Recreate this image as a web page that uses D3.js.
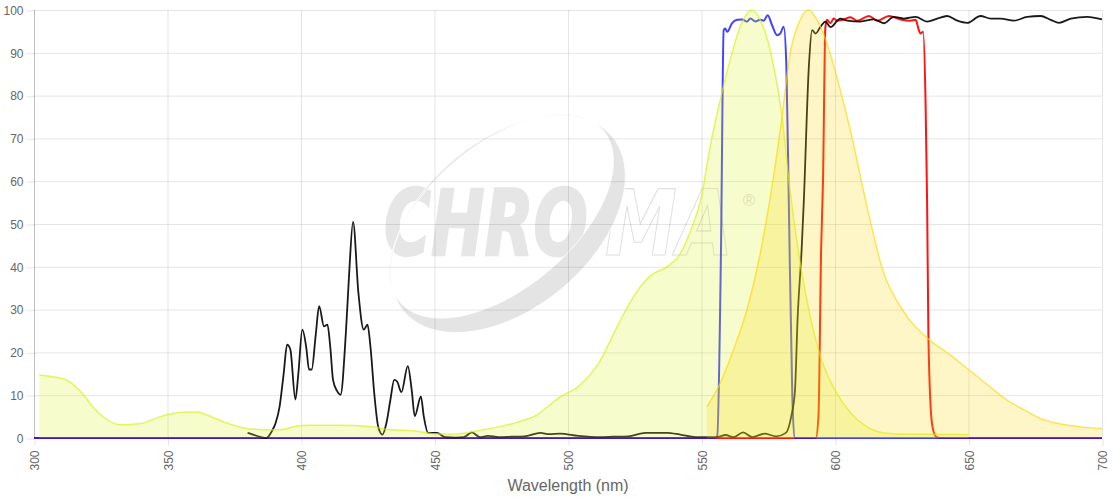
<!DOCTYPE html>
<html>
<head>
<meta charset="utf-8">
<script src="https://cdn.jsdelivr.net/npm/d3@7"></script>
<style>
  body { margin: 0; background: #fff; }
  svg { display: block; font-family: "Liberation Sans", Arial, Helvetica, sans-serif; }
</style>
</head>
<body>
<div id="chart"></div>
<script>
// x ticks and y ticks
const xTicks = [300, 350, 400, 450, 500, 550, 600, 650, 700];
const yTicks = [0, 10, 20, 30, 40, 50, 60, 70, 80, 90, 100];

// yellow-green spectrum (excitation)
const exWl = [302, 307, 312, 318, 322, 326, 332, 340, 346, 350, 357, 361, 367, 374, 381, 391, 400, 404, 414, 426, 434, 442, 450, 457, 468, 474, 481, 488, 497, 504, 512, 518, 525, 531, 537, 542, 546, 550, 553, 557, 561, 565, 569, 572, 576, 580, 583, 587, 591, 595, 600, 606, 612, 618, 625, 635, 650];
const exVal = [14.7, 14.3, 13.6, 10.5, 7.3, 4.9, 3.1, 3.4, 4.7, 5.5, 6.1, 6.1, 4.8, 3.1, 2.1, 1.9, 2.9, 3.0, 3.0, 2.7, 1.9, 1.7, 1.0, 0.9, 1.9, 2.6, 3.7, 5.3, 9.6, 12.1, 18, 25.5, 33.5, 38, 40, 43, 48.6, 56.4, 67.3, 79, 89, 96.9, 100, 97.7, 89.9, 75.9, 58.7, 40.8, 27.6, 18.2, 11.2, 5.8, 2.6, 1.2, 0.9, 0.9, 0.8];

// gold spectrum (emission)
const emWl = [552, 557, 562, 567, 572, 576, 580, 583, 587, 590, 593, 597, 601, 606, 612, 618, 625, 635, 643, 650, 657, 664, 671, 678, 685, 692, 700];
const emVal = [7.3, 12.8, 20.6, 29.9, 43.1, 57.2, 74.3, 89.1, 97.7, 100, 98, 92.2, 83.6, 71.2, 54, 39, 30.2, 23.1, 19.5, 16, 12.5, 9, 6.5, 4.3, 3.2, 2.6, 2.2];

// black curve
const blackWl = [380, 382, 385, 387, 389, 390.5, 392, 393.5, 394.8, 396, 397.9, 399, 400.5, 402, 403, 404, 405.5, 406.8, 408.6, 409.9, 411, 412, 413.5, 414.8, 416.8, 418, 419.5, 421.5, 423.5, 424.9, 426, 427.5, 428.9, 430.5, 432, 433.5, 434.9, 436, 437.6, 440, 441.5, 442.6, 444.9, 446, 447.6, 450.9, 454, 458, 461, 464, 467, 470, 474, 479, 483.7, 489.7, 493, 497, 503.8, 512, 517, 522.6, 529, 537, 542, 547.8, 555.7, 559, 562, 565.6, 569, 573.6, 578, 581.6, 583.6, 585, 586, 587.5, 588.3, 590.2, 591.4, 592.7, 594.5, 596.4, 598.3, 602, 604.6, 609.5, 614.5, 618.3, 622, 625.8, 630.2, 634.5, 638.3, 642, 645.8, 649.5, 654.5, 658.3, 662, 667, 672, 677, 680.8, 683.9, 688.3, 694.5, 700];
const blackVal = [1.2, 0.8, 0.2, 0, 1.5, 3.5, 7.4, 15, 21.8, 20.7, 9, 15, 25.3, 21, 16, 16, 24, 30.8, 26.1, 26.5, 21, 13.6, 11, 10.1, 24.5, 38, 50.5, 33.9, 25.3, 26.5, 21.4, 10, 2.7, 0.8, 3.5, 9, 13.6, 13.2, 10.7, 16.8, 11, 5.1, 9.7, 5, 1.2, 1.2, 0.2, 0.1, 0.2, 1.3, 0.2, 0.5, 0.2, 0.3, 0.4, 1.2, 0.9, 1.0, 0.5, 0.2, 0.3, 0.4, 1.2, 1.2, 0.8, 0.2, 0.2, 0.7, 0.2, 1.3, 0.2, 1.0, 0.4, 1.2, 5, 11, 28, 44, 55, 86.7, 95.3, 94.5, 96, 97.3, 96, 98, 97.5, 97.3, 97.8, 96.9, 98.4, 98, 98.4, 97.3, 98, 98.6, 97.5, 97, 98.6, 98, 98, 97.5, 98.4, 98.6, 97.7, 97, 98, 98.4, 97.8];

// blue bandpass
const blueWl = [300, 555, 555.9, 557.3, 558.3, 558.9, 559.6, 561.4, 563.3, 565.2, 567, 568.3, 570.2, 572, 573.3, 574.8, 576.4, 578.3, 579.5, 580.8, 581.8, 582.7, 584, 584.8, 700];
const blueVal = [0, 0, 0.5, 44, 95.3, 95.7, 94.9, 96.9, 97.7, 97.8, 97.3, 98, 97.3, 97.7, 97.5, 98.8, 96.5, 94.1, 94.5, 96.1, 86.7, 55, 10, 0, 0];

// red bandpass
const redWl = [300, 592.8, 593.8, 594.8, 595.5, 596.4, 597, 598.3, 599.5, 600.8, 603.3, 605.8, 608.3, 612.7, 615.8, 620.2, 624.5, 628.3, 630.2, 631.4, 632, 633, 633.9, 634.5, 635, 636.3, 637.7, 639, 700];
const redVal = [0, 0, 5, 44, 60, 96, 97.7, 96.9, 98, 97.5, 97.8, 98.3, 97.5, 98.6, 97.5, 98.6, 97.8, 97.5, 97.7, 95.3, 94.5, 94.9, 79, 55, 23, 3.5, 0.4, 0, 0];

const width = 1120;
const height = 500;
const margin = { top: 10, right: 18, bottom: 62, left: 34 };

const svg = d3.select("#chart")
  .append("svg")
  .attr("width", width)
  .attr("height", height);

const x = d3.scaleLinear()
  .domain([300, 700])
  .range([margin.left, width - margin.right]);

const y = d3.scaleLinear()
  .domain([0, 100])
  .range([height - margin.bottom, margin.top]);

const pairs = (wl, vals) => wl.map((w, i) => [w, vals[i]]);

// watermark logo, behind everything
const logo = svg.append("g").attr("class", "watermark");
const logoFont = "'DejaVu Sans', 'Liberation Sans', Arial, sans-serif";

// squeeze a word into a given width with a horizontal scale
function logoWord(word, left, base, targetW, filled) {
  const t = logo.append("text")
    .attr("x", 0).attr("y", 0)
    .attr("font-family", logoFont)
    .attr("font-size", 90).attr("font-weight", "bold").attr("font-style", "italic")
    .text(word);
  if (filled) {
    t.attr("fill", "#e6e6e6").attr("stroke", "#e6e6e6").attr("stroke-width", 2.5);
  } else {
    t.attr("fill", "none").attr("stroke", "#e0e0e0").attr("stroke-width", 1.2);
  }
  const w = t.node().getComputedTextLength();
  t.attr("transform", `translate(${left},${base}) scale(${targetW / w},1)`);
}
logoWord("CHRO", 384, 255, 204, true);
logoWord("MA", 605, 255, 128, false);
logo.append("text")
  .attr("x", 749).attr("y", 206)
  .attr("font-size", 17).attr("text-anchor", "middle")
  .attr("fill", "#e2e2e2")
  .text("®");

// crescent swoosh: outer ellipse minus a shifted inner ellipse
function ellipsePath(cx, cy, a, b, rot) {
  const pts = d3.range(0, 361, 4).map(t => {
    const r = t * Math.PI / 180;
    const ex = a * Math.cos(r), ey = b * Math.sin(r);
    const c = Math.cos(rot), s = Math.sin(rot);
    return [cx + ex * c - ey * s, cy + ex * s + ey * c];
  });
  return d3.line()(pts) + "Z";
}
const rot = -40 * Math.PI / 180;
const shift = 10;
logo.append("path")
  .attr("d", ellipsePath(508, 224, 136, 84, rot) +
    ellipsePath(508 - shift * Math.sin(-rot), 224 - shift * Math.cos(rot), 133, 72, rot))
  .attr("fill-rule", "evenodd")
  .attr("fill", "#e4e4e4")
  .attr("stroke", "#fff")
  .attr("stroke-width", 0.8);

// grid lines
const grid = svg.append("g").attr("class", "grid");
grid.selectAll("line.h")
  .data(yTicks)
  .join("line")
  .attr("class", "h")
  .attr("x1", margin.left).attr("x2", width - margin.right)
  .attr("y1", d => y(d) + 0.5).attr("y2", d => y(d) + 0.5)
  .attr("stroke", "rgba(0,0,0,0.1)");
grid.selectAll("line.v")
  .data(xTicks)
  .join("line")
  .attr("class", "v")
  .attr("y1", margin.top).attr("y2", height - margin.bottom)
  .attr("x1", d => x(d) + 0.5).attr("x2", d => x(d) + 0.5)
  .attr("stroke", d => d === 300 ? "rgba(0,0,0,0.25)" : "rgba(0,0,0,0.1)");

// axes
const yAxis = svg.append("g")
  .attr("transform", `translate(${margin.left + 0.5},0.5)`)
  .call(d3.axisLeft(y).tickValues(yTicks).tickSize(8).tickPadding(3));
const xAxis = svg.append("g")
  .attr("transform", `translate(0.5,${height - margin.bottom + 0.5})`)
  .call(d3.axisBottom(x).tickValues(xTicks).tickSize(7));
[yAxis, xAxis].forEach(ax => {
  ax.select(".domain").remove();
  ax.selectAll(".tick line").attr("stroke", "rgba(0,0,0,0.1)");
  ax.selectAll("text")
    .attr("fill", "#666")
    .attr("font-size", 12)
    .attr("font-family", "'Liberation Sans', Arial, sans-serif");
});
xAxis.selectAll("text")
  .attr("transform", "rotate(-90)")
  .attr("text-anchor", "end")
  .attr("x", -12)
  .attr("y", 0)
  .attr("dy", "0.35em");

svg.append("text")
  .attr("x", (margin.left + width - margin.right) / 2)
  .attr("y", 491)
  .attr("text-anchor", "middle")
  .attr("fill", "#666")
  .attr("font-size", 16)
  .text("Wavelength (nm)");

const line = d3.line()
  .x(d => x(d[0]))
  .y(d => y(d[1]))
  .curve(d3.curveMonotoneX);

const area = d3.area()
  .x(d => x(d[0]))
  .y0(y(0))
  .y1(d => y(d[1]))
  .curve(d3.curveMonotoneX);

const plot = svg.append("g");

// filter curves
plot.append("path")
  .datum(pairs(redWl, redVal))
  .attr("d", line)
  .attr("fill", "none")
  .attr("stroke", "rgb(255,20,20)")
  .attr("stroke-width", 2);
plot.append("path")
  .datum(pairs(blueWl, blueVal))
  .attr("d", line)
  .attr("fill", "none")
  .attr("stroke", "rgb(20,20,255)")
  .attr("stroke-opacity", 0.8)
  .attr("stroke-width", 2);
plot.append("path")
  .datum(pairs(blackWl, blackVal))
  .attr("d", line)
  .attr("fill", "none")
  .attr("stroke", "#000")
  .attr("stroke-opacity", 0.9)
  .attr("stroke-width", 1.8);

// dye spectra, filled on top
const spectra = [
  { wl: exWl, val: exVal, color: "215,240,20" },
  { wl: emWl, val: emVal, color: "255,215,0" }
];
spectra.forEach(s => {
  const data = pairs(s.wl, s.val);
  plot.append("path")
    .datum(data)
    .attr("d", area)
    .attr("fill", `rgba(${s.color},0.22)`);
  plot.append("path")
    .datum(data)
    .attr("d", line)
    .attr("fill", "none")
    .attr("stroke", `rgba(${s.color},0.65)`)
    .attr("stroke-width", 1.5);
});
</script>
</body>
</html>
